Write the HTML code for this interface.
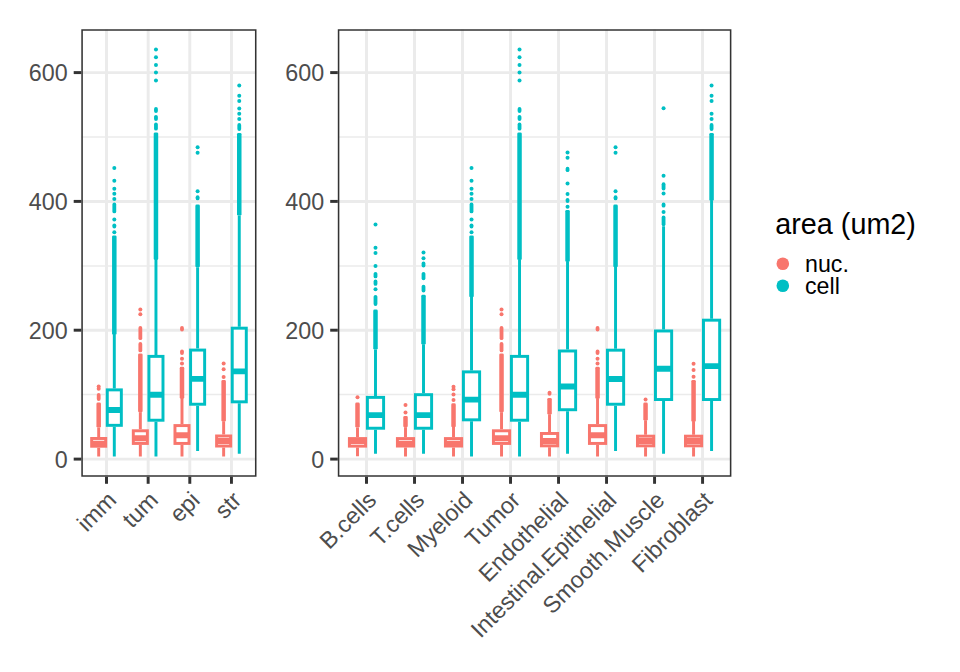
<!DOCTYPE html>
<html><head><meta charset="utf-8"><title>area boxplots</title>
<style>
html,body{margin:0;padding:0;background:#fff;}
svg{display:block;font-family:"Liberation Sans",sans-serif;}
</style></head><body>
<svg width="960" height="672" viewBox="0 0 960 672">
<rect width="960" height="672" fill="#fff"/>
<clipPath id="c1"><rect x="81.3" y="29.2" width="175.2" height="447.6"/></clipPath>
<g clip-path="url(#c1)">
<line x1="81.3" x2="256.5" y1="394.6" y2="394.6" stroke="#EBEBEB" stroke-width="1.475"/>
<line x1="81.3" x2="256.5" y1="265.9" y2="265.9" stroke="#EBEBEB" stroke-width="1.475"/>
<line x1="81.3" x2="256.5" y1="137.1" y2="137.1" stroke="#EBEBEB" stroke-width="1.475"/>
<line x1="81.3" x2="256.5" y1="459.1" y2="459.1" stroke="#EBEBEB" stroke-width="2.95"/>
<line x1="81.3" x2="256.5" y1="330.2" y2="330.2" stroke="#EBEBEB" stroke-width="2.95"/>
<line x1="81.3" x2="256.5" y1="201.4" y2="201.4" stroke="#EBEBEB" stroke-width="2.95"/>
<line x1="81.3" x2="256.5" y1="72.6" y2="72.6" stroke="#EBEBEB" stroke-width="2.95"/>
<line x1="106.50" x2="106.50" y1="29.2" y2="476.8" stroke="#EBEBEB" stroke-width="2.95"/>
<line x1="148.15" x2="148.15" y1="29.2" y2="476.8" stroke="#EBEBEB" stroke-width="2.95"/>
<line x1="189.80" x2="189.80" y1="29.2" y2="476.8" stroke="#EBEBEB" stroke-width="2.95"/>
<line x1="231.45" x2="231.45" y1="29.2" y2="476.8" stroke="#EBEBEB" stroke-width="2.95"/>
<circle cx="98.69" cy="386.4" r="2.0" fill="#F8766D"/>
<circle cx="98.69" cy="388.8" r="2.0" fill="#F8766D"/>
<line x1="98.69" x2="98.69" y1="394.9" y2="399.0" stroke="#F8766D" stroke-width="3.8" stroke-linecap="round"/>
<rect x="96.44" y="402.6" width="4.5" height="25.0" rx="1.4" fill="#F8766D"/>
<line x1="98.69" x2="98.69" y1="427.4" y2="437.0" stroke="#F8766D" stroke-width="2.95"/>
<line x1="98.69" x2="98.69" y1="447.7" y2="456.4" stroke="#F8766D" stroke-width="2.95"/>
<rect x="91.66" y="438.48" width="14.06" height="7.75" fill="#fff" stroke="#F8766D" stroke-width="2.95"/>
<line x1="91.66" x2="105.72" y1="443.7" y2="443.7" stroke="#F8766D" stroke-width="5.9"/>
<circle cx="114.31" cy="168.1" r="2.0" fill="#00BFC4"/>
<circle cx="114.31" cy="180.7" r="2.0" fill="#00BFC4"/>
<circle cx="114.31" cy="188.7" r="2.0" fill="#00BFC4"/>
<circle cx="114.31" cy="193.8" r="2.0" fill="#00BFC4"/>
<circle cx="114.31" cy="199.0" r="2.0" fill="#00BFC4"/>
<line x1="114.31" x2="114.31" y1="204.5" y2="211.4" stroke="#00BFC4" stroke-width="3.8" stroke-linecap="round"/>
<circle cx="114.31" cy="219.4" r="2.0" fill="#00BFC4"/>
<line x1="114.31" x2="114.31" y1="225.3" y2="226.5" stroke="#00BFC4" stroke-width="3.8" stroke-linecap="round"/>
<circle cx="114.31" cy="232.2" r="2.0" fill="#00BFC4"/>
<rect x="112.06" y="235.4" width="4.5" height="99.6" rx="1.4" fill="#00BFC4"/>
<line x1="114.31" x2="114.31" y1="334.8" y2="388.4" stroke="#00BFC4" stroke-width="2.95"/>
<line x1="114.31" x2="114.31" y1="426.8" y2="456.4" stroke="#00BFC4" stroke-width="2.95"/>
<rect x="107.28" y="389.88" width="14.06" height="35.45" fill="#fff" stroke="#00BFC4" stroke-width="2.95"/>
<line x1="107.28" x2="121.34" y1="410.0" y2="410.0" stroke="#00BFC4" stroke-width="5.9"/>
<circle cx="140.34" cy="309.4" r="2.0" fill="#F8766D"/>
<circle cx="140.34" cy="314.3" r="2.0" fill="#F8766D"/>
<line x1="140.34" x2="140.34" y1="328.0" y2="338.2" stroke="#F8766D" stroke-width="3.8" stroke-linecap="round"/>
<line x1="140.34" x2="140.34" y1="343.9" y2="350.4" stroke="#F8766D" stroke-width="3.8" stroke-linecap="round"/>
<rect x="138.09" y="353.4" width="4.5" height="59.0" rx="1.4" fill="#F8766D"/>
<line x1="140.34" x2="140.34" y1="412.2" y2="429.3" stroke="#F8766D" stroke-width="2.95"/>
<line x1="140.34" x2="140.34" y1="444.9" y2="456.4" stroke="#F8766D" stroke-width="2.95"/>
<rect x="133.31" y="430.78" width="14.06" height="12.65" fill="#fff" stroke="#F8766D" stroke-width="2.95"/>
<line x1="133.31" x2="147.37" y1="438.3" y2="438.3" stroke="#F8766D" stroke-width="5.9"/>
<circle cx="155.96" cy="49.5" r="2.0" fill="#00BFC4"/>
<circle cx="155.96" cy="57.2" r="2.0" fill="#00BFC4"/>
<circle cx="155.96" cy="64.9" r="2.0" fill="#00BFC4"/>
<circle cx="155.96" cy="72.6" r="2.0" fill="#00BFC4"/>
<circle cx="155.96" cy="80.6" r="2.0" fill="#00BFC4"/>
<line x1="155.96" x2="155.96" y1="108.9" y2="111.1" stroke="#00BFC4" stroke-width="3.8" stroke-linecap="round"/>
<line x1="155.96" x2="155.96" y1="116.8" y2="119.0" stroke="#00BFC4" stroke-width="3.8" stroke-linecap="round"/>
<line x1="155.96" x2="155.96" y1="124.4" y2="128.7" stroke="#00BFC4" stroke-width="3.8" stroke-linecap="round"/>
<rect x="153.71" y="132.4" width="4.5" height="127.7" rx="1.4" fill="#00BFC4"/>
<line x1="155.96" x2="155.96" y1="259.9" y2="354.9" stroke="#00BFC4" stroke-width="2.95"/>
<line x1="155.96" x2="155.96" y1="421.7" y2="456.4" stroke="#00BFC4" stroke-width="2.95"/>
<rect x="148.93" y="356.38" width="14.06" height="63.85" fill="#fff" stroke="#00BFC4" stroke-width="2.95"/>
<line x1="148.93" x2="162.99" y1="394.8" y2="394.8" stroke="#00BFC4" stroke-width="5.9"/>
<line x1="181.99" x2="181.99" y1="328.0" y2="329.6" stroke="#F8766D" stroke-width="3.8" stroke-linecap="round"/>
<line x1="181.99" x2="181.99" y1="351.4" y2="353.0" stroke="#F8766D" stroke-width="3.8" stroke-linecap="round"/>
<circle cx="181.99" cy="358.8" r="2.0" fill="#F8766D"/>
<circle cx="181.99" cy="363.5" r="2.0" fill="#F8766D"/>
<rect x="179.74" y="366.8" width="4.5" height="32.2" rx="1.4" fill="#F8766D"/>
<line x1="181.99" x2="181.99" y1="398.8" y2="424.1" stroke="#F8766D" stroke-width="2.95"/>
<line x1="181.99" x2="181.99" y1="444.9" y2="456.4" stroke="#F8766D" stroke-width="2.95"/>
<rect x="174.96" y="425.58" width="14.06" height="17.85" fill="#fff" stroke="#F8766D" stroke-width="2.95"/>
<line x1="174.96" x2="189.02" y1="435.3" y2="435.3" stroke="#F8766D" stroke-width="5.9"/>
<circle cx="197.61" cy="147.3" r="2.0" fill="#00BFC4"/>
<circle cx="197.61" cy="152.7" r="2.0" fill="#00BFC4"/>
<circle cx="197.61" cy="191.3" r="2.0" fill="#00BFC4"/>
<line x1="197.61" x2="197.61" y1="197.2" y2="198.4" stroke="#00BFC4" stroke-width="3.8" stroke-linecap="round"/>
<rect x="195.36" y="204.6" width="4.5" height="62.7" rx="1.4" fill="#00BFC4"/>
<line x1="197.61" x2="197.61" y1="267.2" y2="348.6" stroke="#00BFC4" stroke-width="2.95"/>
<line x1="197.61" x2="197.61" y1="405.7" y2="451.1" stroke="#00BFC4" stroke-width="2.95"/>
<rect x="190.58" y="350.08" width="14.06" height="54.15" fill="#fff" stroke="#00BFC4" stroke-width="2.95"/>
<line x1="190.58" x2="204.64" y1="378.9" y2="378.9" stroke="#00BFC4" stroke-width="5.9"/>
<circle cx="223.64" cy="363.6" r="2.0" fill="#F8766D"/>
<circle cx="223.64" cy="369.2" r="2.0" fill="#F8766D"/>
<circle cx="223.64" cy="377.0" r="2.0" fill="#F8766D"/>
<rect x="221.39" y="380.1" width="4.5" height="41.6" rx="1.4" fill="#F8766D"/>
<line x1="223.64" x2="223.64" y1="421.5" y2="434.5" stroke="#F8766D" stroke-width="2.95"/>
<line x1="223.64" x2="223.64" y1="447.5" y2="456.4" stroke="#F8766D" stroke-width="2.95"/>
<rect x="216.61" y="435.98" width="14.06" height="10.05" fill="#fff" stroke="#F8766D" stroke-width="2.95"/>
<line x1="216.61" x2="230.67" y1="441.0" y2="441.0" stroke="#F8766D" stroke-width="5.9"/>
<circle cx="239.26" cy="85.5" r="2.0" fill="#00BFC4"/>
<circle cx="239.26" cy="95.8" r="2.0" fill="#00BFC4"/>
<circle cx="239.26" cy="101.0" r="2.0" fill="#00BFC4"/>
<circle cx="239.26" cy="108.5" r="2.0" fill="#00BFC4"/>
<circle cx="239.26" cy="113.8" r="2.0" fill="#00BFC4"/>
<circle cx="239.26" cy="119.0" r="2.0" fill="#00BFC4"/>
<line x1="239.26" x2="239.26" y1="125.0" y2="129.0" stroke="#00BFC4" stroke-width="3.8" stroke-linecap="round"/>
<rect x="237.01" y="132.9" width="4.5" height="82.7" rx="1.4" fill="#00BFC4"/>
<line x1="239.26" x2="239.26" y1="215.4" y2="326.7" stroke="#00BFC4" stroke-width="2.95"/>
<line x1="239.26" x2="239.26" y1="403.3" y2="453.8" stroke="#00BFC4" stroke-width="2.95"/>
<rect x="232.23" y="328.18" width="14.06" height="73.65" fill="#fff" stroke="#00BFC4" stroke-width="2.95"/>
<line x1="232.23" x2="246.29" y1="371.4" y2="371.4" stroke="#00BFC4" stroke-width="5.9"/>
<rect x="81.3" y="29.2" width="175.2" height="447.6" fill="none" stroke="#333333" stroke-width="3.1"/>
</g>
<line x1="73.7" x2="81.3" y1="459.1" y2="459.1" stroke="#333333" stroke-width="2.95"/>
<text x="67.7" y="467.7" text-anchor="end" fill="#4D4D4D" font-size="23.3">0</text>
<line x1="73.7" x2="81.3" y1="330.2" y2="330.2" stroke="#333333" stroke-width="2.95"/>
<text x="67.7" y="338.9" text-anchor="end" fill="#4D4D4D" font-size="23.3">200</text>
<line x1="73.7" x2="81.3" y1="201.4" y2="201.4" stroke="#333333" stroke-width="2.95"/>
<text x="67.7" y="210.0" text-anchor="end" fill="#4D4D4D" font-size="23.3">400</text>
<line x1="73.7" x2="81.3" y1="72.6" y2="72.6" stroke="#333333" stroke-width="2.95"/>
<text x="67.7" y="81.2" text-anchor="end" fill="#4D4D4D" font-size="23.3">600</text>
<line x1="106.50" x2="106.50" y1="476.8" y2="483.8" stroke="#333333" stroke-width="2.95"/>
<text transform="translate(106.50,490.30) rotate(-45)" text-anchor="end" fill="#4D4D4D" font-size="23.3" dy="16">imm</text>
<line x1="148.15" x2="148.15" y1="476.8" y2="483.8" stroke="#333333" stroke-width="2.95"/>
<text transform="translate(148.15,490.30) rotate(-45)" text-anchor="end" fill="#4D4D4D" font-size="23.3" dy="16">tum</text>
<line x1="189.80" x2="189.80" y1="476.8" y2="483.8" stroke="#333333" stroke-width="2.95"/>
<text transform="translate(189.80,490.30) rotate(-45)" text-anchor="end" fill="#4D4D4D" font-size="23.3" dy="16">epi</text>
<line x1="231.45" x2="231.45" y1="476.8" y2="483.8" stroke="#333333" stroke-width="2.95"/>
<text transform="translate(231.45,490.30) rotate(-45)" text-anchor="end" fill="#4D4D4D" font-size="23.3" dy="16">str</text>
<clipPath id="c2"><rect x="337.8" y="29.2" width="393.59999999999997" height="447.6"/></clipPath>
<g clip-path="url(#c2)">
<line x1="337.8" x2="731.4" y1="394.6" y2="394.6" stroke="#EBEBEB" stroke-width="1.475"/>
<line x1="337.8" x2="731.4" y1="265.9" y2="265.9" stroke="#EBEBEB" stroke-width="1.475"/>
<line x1="337.8" x2="731.4" y1="137.1" y2="137.1" stroke="#EBEBEB" stroke-width="1.475"/>
<line x1="337.8" x2="731.4" y1="459.1" y2="459.1" stroke="#EBEBEB" stroke-width="2.95"/>
<line x1="337.8" x2="731.4" y1="330.2" y2="330.2" stroke="#EBEBEB" stroke-width="2.95"/>
<line x1="337.8" x2="731.4" y1="201.4" y2="201.4" stroke="#EBEBEB" stroke-width="2.95"/>
<line x1="337.8" x2="731.4" y1="72.6" y2="72.6" stroke="#EBEBEB" stroke-width="2.95"/>
<line x1="366.50" x2="366.50" y1="29.2" y2="476.8" stroke="#EBEBEB" stroke-width="2.95"/>
<line x1="414.51" x2="414.51" y1="29.2" y2="476.8" stroke="#EBEBEB" stroke-width="2.95"/>
<line x1="462.52" x2="462.52" y1="29.2" y2="476.8" stroke="#EBEBEB" stroke-width="2.95"/>
<line x1="510.53" x2="510.53" y1="29.2" y2="476.8" stroke="#EBEBEB" stroke-width="2.95"/>
<line x1="558.54" x2="558.54" y1="29.2" y2="476.8" stroke="#EBEBEB" stroke-width="2.95"/>
<line x1="606.55" x2="606.55" y1="29.2" y2="476.8" stroke="#EBEBEB" stroke-width="2.95"/>
<line x1="654.56" x2="654.56" y1="29.2" y2="476.8" stroke="#EBEBEB" stroke-width="2.95"/>
<line x1="702.57" x2="702.57" y1="29.2" y2="476.8" stroke="#EBEBEB" stroke-width="2.95"/>
<circle cx="357.50" cy="397.3" r="2.0" fill="#F8766D"/>
<rect x="355.25" y="402.6" width="4.5" height="25.0" rx="1.4" fill="#F8766D"/>
<line x1="357.50" x2="357.50" y1="427.4" y2="437.1" stroke="#F8766D" stroke-width="2.95"/>
<line x1="357.50" x2="357.50" y1="447.6" y2="456.3" stroke="#F8766D" stroke-width="2.95"/>
<rect x="349.40" y="438.58" width="16.20" height="7.55" fill="#fff" stroke="#F8766D" stroke-width="2.95"/>
<line x1="349.40" x2="365.60" y1="441.0" y2="441.0" stroke="#F8766D" stroke-width="5.9"/>
<circle cx="375.50" cy="224.5" r="2.0" fill="#00BFC4"/>
<circle cx="375.50" cy="247.7" r="2.0" fill="#00BFC4"/>
<circle cx="375.50" cy="253.0" r="2.0" fill="#00BFC4"/>
<circle cx="375.50" cy="266.1" r="2.0" fill="#00BFC4"/>
<line x1="375.50" x2="375.50" y1="273.8" y2="276.4" stroke="#00BFC4" stroke-width="3.8" stroke-linecap="round"/>
<line x1="375.50" x2="375.50" y1="281.4" y2="283.9" stroke="#00BFC4" stroke-width="3.8" stroke-linecap="round"/>
<circle cx="375.50" cy="289.3" r="2.0" fill="#00BFC4"/>
<line x1="375.50" x2="375.50" y1="296.8" y2="304.1" stroke="#00BFC4" stroke-width="3.8" stroke-linecap="round"/>
<rect x="373.25" y="309.6" width="4.5" height="40.0" rx="1.4" fill="#00BFC4"/>
<line x1="375.50" x2="375.50" y1="349.4" y2="395.9" stroke="#00BFC4" stroke-width="2.95"/>
<line x1="375.50" x2="375.50" y1="429.7" y2="453.8" stroke="#00BFC4" stroke-width="2.95"/>
<rect x="367.40" y="397.38" width="16.20" height="30.85" fill="#fff" stroke="#00BFC4" stroke-width="2.95"/>
<line x1="367.40" x2="383.60" y1="415.1" y2="415.1" stroke="#00BFC4" stroke-width="5.9"/>
<circle cx="405.51" cy="405.0" r="2.0" fill="#F8766D"/>
<circle cx="405.51" cy="412.4" r="2.0" fill="#F8766D"/>
<rect x="403.26" y="416.1" width="4.5" height="11.3" rx="1.4" fill="#F8766D"/>
<line x1="405.51" x2="405.51" y1="427.2" y2="437.1" stroke="#F8766D" stroke-width="2.95"/>
<line x1="405.51" x2="405.51" y1="447.5" y2="456.4" stroke="#F8766D" stroke-width="2.95"/>
<rect x="397.41" y="438.58" width="16.20" height="7.45" fill="#fff" stroke="#F8766D" stroke-width="2.95"/>
<line x1="397.41" x2="413.61" y1="443.7" y2="443.7" stroke="#F8766D" stroke-width="5.9"/>
<circle cx="423.51" cy="252.6" r="2.0" fill="#00BFC4"/>
<circle cx="423.51" cy="258.2" r="2.0" fill="#00BFC4"/>
<line x1="423.51" x2="423.51" y1="263.5" y2="265.5" stroke="#00BFC4" stroke-width="3.8" stroke-linecap="round"/>
<line x1="423.51" x2="423.51" y1="273.8" y2="278.3" stroke="#00BFC4" stroke-width="3.8" stroke-linecap="round"/>
<line x1="423.51" x2="423.51" y1="286.7" y2="290.6" stroke="#00BFC4" stroke-width="3.8" stroke-linecap="round"/>
<rect x="421.26" y="294.8" width="4.5" height="49.9" rx="1.4" fill="#00BFC4"/>
<line x1="423.51" x2="423.51" y1="344.5" y2="393.2" stroke="#00BFC4" stroke-width="2.95"/>
<line x1="423.51" x2="423.51" y1="429.7" y2="453.8" stroke="#00BFC4" stroke-width="2.95"/>
<rect x="415.41" y="394.68" width="16.20" height="33.55" fill="#fff" stroke="#00BFC4" stroke-width="2.95"/>
<line x1="415.41" x2="431.61" y1="415.1" y2="415.1" stroke="#00BFC4" stroke-width="5.9"/>
<circle cx="453.52" cy="386.8" r="2.0" fill="#F8766D"/>
<circle cx="453.52" cy="389.2" r="2.0" fill="#F8766D"/>
<circle cx="453.52" cy="394.5" r="2.0" fill="#F8766D"/>
<circle cx="453.52" cy="400.0" r="2.0" fill="#F8766D"/>
<rect x="451.27" y="403.3" width="4.5" height="24.0" rx="1.4" fill="#F8766D"/>
<line x1="453.52" x2="453.52" y1="427.1" y2="437.1" stroke="#F8766D" stroke-width="2.95"/>
<line x1="453.52" x2="453.52" y1="447.5" y2="456.4" stroke="#F8766D" stroke-width="2.95"/>
<rect x="445.42" y="438.58" width="16.20" height="7.45" fill="#fff" stroke="#F8766D" stroke-width="2.95"/>
<line x1="445.42" x2="461.62" y1="443.7" y2="443.7" stroke="#F8766D" stroke-width="5.9"/>
<circle cx="471.52" cy="168.1" r="2.0" fill="#00BFC4"/>
<circle cx="471.52" cy="180.7" r="2.0" fill="#00BFC4"/>
<circle cx="471.52" cy="188.7" r="2.0" fill="#00BFC4"/>
<circle cx="471.52" cy="193.8" r="2.0" fill="#00BFC4"/>
<circle cx="471.52" cy="199.0" r="2.0" fill="#00BFC4"/>
<line x1="471.52" x2="471.52" y1="204.5" y2="211.4" stroke="#00BFC4" stroke-width="3.8" stroke-linecap="round"/>
<circle cx="471.52" cy="219.4" r="2.0" fill="#00BFC4"/>
<line x1="471.52" x2="471.52" y1="225.3" y2="226.5" stroke="#00BFC4" stroke-width="3.8" stroke-linecap="round"/>
<circle cx="471.52" cy="232.2" r="2.0" fill="#00BFC4"/>
<rect x="469.27" y="235.4" width="4.5" height="61.9" rx="1.4" fill="#00BFC4"/>
<line x1="471.52" x2="471.52" y1="297.1" y2="370.4" stroke="#00BFC4" stroke-width="2.95"/>
<line x1="471.52" x2="471.52" y1="421.3" y2="456.4" stroke="#00BFC4" stroke-width="2.95"/>
<rect x="463.42" y="371.88" width="16.20" height="47.95" fill="#fff" stroke="#00BFC4" stroke-width="2.95"/>
<line x1="463.42" x2="479.62" y1="399.6" y2="399.6" stroke="#00BFC4" stroke-width="5.9"/>
<circle cx="501.53" cy="309.4" r="2.0" fill="#F8766D"/>
<circle cx="501.53" cy="314.3" r="2.0" fill="#F8766D"/>
<line x1="501.53" x2="501.53" y1="328.0" y2="338.2" stroke="#F8766D" stroke-width="3.8" stroke-linecap="round"/>
<line x1="501.53" x2="501.53" y1="343.9" y2="350.4" stroke="#F8766D" stroke-width="3.8" stroke-linecap="round"/>
<rect x="499.28" y="353.4" width="4.5" height="59.0" rx="1.4" fill="#F8766D"/>
<line x1="501.53" x2="501.53" y1="412.2" y2="429.3" stroke="#F8766D" stroke-width="2.95"/>
<line x1="501.53" x2="501.53" y1="444.9" y2="456.4" stroke="#F8766D" stroke-width="2.95"/>
<rect x="493.43" y="430.78" width="16.20" height="12.65" fill="#fff" stroke="#F8766D" stroke-width="2.95"/>
<line x1="493.43" x2="509.63" y1="438.3" y2="438.3" stroke="#F8766D" stroke-width="5.9"/>
<circle cx="519.53" cy="49.5" r="2.0" fill="#00BFC4"/>
<circle cx="519.53" cy="57.2" r="2.0" fill="#00BFC4"/>
<circle cx="519.53" cy="64.9" r="2.0" fill="#00BFC4"/>
<circle cx="519.53" cy="72.6" r="2.0" fill="#00BFC4"/>
<circle cx="519.53" cy="80.6" r="2.0" fill="#00BFC4"/>
<line x1="519.53" x2="519.53" y1="108.9" y2="111.1" stroke="#00BFC4" stroke-width="3.8" stroke-linecap="round"/>
<line x1="519.53" x2="519.53" y1="116.8" y2="119.0" stroke="#00BFC4" stroke-width="3.8" stroke-linecap="round"/>
<line x1="519.53" x2="519.53" y1="124.4" y2="128.7" stroke="#00BFC4" stroke-width="3.8" stroke-linecap="round"/>
<rect x="517.28" y="132.4" width="4.5" height="127.7" rx="1.4" fill="#00BFC4"/>
<line x1="519.53" x2="519.53" y1="259.9" y2="354.9" stroke="#00BFC4" stroke-width="2.95"/>
<line x1="519.53" x2="519.53" y1="421.7" y2="456.4" stroke="#00BFC4" stroke-width="2.95"/>
<rect x="511.43" y="356.38" width="16.20" height="63.85" fill="#fff" stroke="#00BFC4" stroke-width="2.95"/>
<line x1="511.43" x2="527.63" y1="394.8" y2="394.8" stroke="#00BFC4" stroke-width="5.9"/>
<line x1="549.54" x2="549.54" y1="392.6" y2="393.8" stroke="#F8766D" stroke-width="3.8" stroke-linecap="round"/>
<rect x="547.29" y="397.9" width="4.5" height="16.8" rx="1.4" fill="#F8766D"/>
<line x1="549.54" x2="549.54" y1="414.5" y2="432.0" stroke="#F8766D" stroke-width="2.95"/>
<line x1="549.54" x2="549.54" y1="447.3" y2="456.4" stroke="#F8766D" stroke-width="2.95"/>
<rect x="541.44" y="433.48" width="16.20" height="12.35" fill="#fff" stroke="#F8766D" stroke-width="2.95"/>
<line x1="541.44" x2="557.64" y1="441.0" y2="441.0" stroke="#F8766D" stroke-width="5.9"/>
<circle cx="567.54" cy="152.5" r="2.0" fill="#00BFC4"/>
<circle cx="567.54" cy="157.8" r="2.0" fill="#00BFC4"/>
<line x1="567.54" x2="567.54" y1="168.7" y2="170.2" stroke="#00BFC4" stroke-width="3.8" stroke-linecap="round"/>
<circle cx="567.54" cy="183.6" r="2.0" fill="#00BFC4"/>
<circle cx="567.54" cy="193.9" r="2.0" fill="#00BFC4"/>
<line x1="567.54" x2="567.54" y1="199.8" y2="201.0" stroke="#00BFC4" stroke-width="3.8" stroke-linecap="round"/>
<circle cx="567.54" cy="206.7" r="2.0" fill="#00BFC4"/>
<rect x="565.29" y="209.9" width="4.5" height="52.1" rx="1.4" fill="#00BFC4"/>
<line x1="567.54" x2="567.54" y1="261.8" y2="349.5" stroke="#00BFC4" stroke-width="2.95"/>
<line x1="567.54" x2="567.54" y1="411.2" y2="453.8" stroke="#00BFC4" stroke-width="2.95"/>
<rect x="559.44" y="350.98" width="16.20" height="58.75" fill="#fff" stroke="#00BFC4" stroke-width="2.95"/>
<line x1="559.44" x2="575.64" y1="386.5" y2="386.5" stroke="#00BFC4" stroke-width="5.9"/>
<line x1="597.55" x2="597.55" y1="328.0" y2="329.6" stroke="#F8766D" stroke-width="3.8" stroke-linecap="round"/>
<line x1="597.55" x2="597.55" y1="351.4" y2="353.0" stroke="#F8766D" stroke-width="3.8" stroke-linecap="round"/>
<circle cx="597.55" cy="358.8" r="2.0" fill="#F8766D"/>
<circle cx="597.55" cy="363.5" r="2.0" fill="#F8766D"/>
<rect x="595.30" y="366.8" width="4.5" height="32.2" rx="1.4" fill="#F8766D"/>
<line x1="597.55" x2="597.55" y1="398.8" y2="424.1" stroke="#F8766D" stroke-width="2.95"/>
<line x1="597.55" x2="597.55" y1="444.9" y2="456.4" stroke="#F8766D" stroke-width="2.95"/>
<rect x="589.45" y="425.58" width="16.20" height="17.85" fill="#fff" stroke="#F8766D" stroke-width="2.95"/>
<line x1="589.45" x2="605.65" y1="435.3" y2="435.3" stroke="#F8766D" stroke-width="5.9"/>
<circle cx="615.55" cy="147.3" r="2.0" fill="#00BFC4"/>
<circle cx="615.55" cy="152.7" r="2.0" fill="#00BFC4"/>
<circle cx="615.55" cy="191.3" r="2.0" fill="#00BFC4"/>
<line x1="615.55" x2="615.55" y1="197.2" y2="198.4" stroke="#00BFC4" stroke-width="3.8" stroke-linecap="round"/>
<rect x="613.30" y="204.6" width="4.5" height="62.7" rx="1.4" fill="#00BFC4"/>
<line x1="615.55" x2="615.55" y1="267.1" y2="348.7" stroke="#00BFC4" stroke-width="2.95"/>
<line x1="615.55" x2="615.55" y1="405.7" y2="451.1" stroke="#00BFC4" stroke-width="2.95"/>
<rect x="607.45" y="350.18" width="16.20" height="54.05" fill="#fff" stroke="#00BFC4" stroke-width="2.95"/>
<line x1="607.45" x2="623.65" y1="379.0" y2="379.0" stroke="#00BFC4" stroke-width="5.9"/>
<circle cx="645.56" cy="399.6" r="2.0" fill="#F8766D"/>
<rect x="643.31" y="402.6" width="4.5" height="18.1" rx="1.4" fill="#F8766D"/>
<line x1="645.56" x2="645.56" y1="420.5" y2="434.7" stroke="#F8766D" stroke-width="2.95"/>
<line x1="645.56" x2="645.56" y1="447.3" y2="456.4" stroke="#F8766D" stroke-width="2.95"/>
<rect x="637.46" y="436.18" width="16.20" height="9.65" fill="#fff" stroke="#F8766D" stroke-width="2.95"/>
<line x1="637.46" x2="653.66" y1="441.0" y2="441.0" stroke="#F8766D" stroke-width="5.9"/>
<circle cx="663.56" cy="108.3" r="2.0" fill="#00BFC4"/>
<circle cx="663.56" cy="175.7" r="2.0" fill="#00BFC4"/>
<line x1="663.56" x2="663.56" y1="184.2" y2="188.5" stroke="#00BFC4" stroke-width="3.8" stroke-linecap="round"/>
<circle cx="663.56" cy="193.6" r="2.0" fill="#00BFC4"/>
<line x1="663.56" x2="663.56" y1="204.5" y2="205.7" stroke="#00BFC4" stroke-width="3.8" stroke-linecap="round"/>
<circle cx="663.56" cy="211.9" r="2.0" fill="#00BFC4"/>
<line x1="663.56" x2="663.56" y1="217.5" y2="224.3" stroke="#00BFC4" stroke-width="3.8" stroke-linecap="round"/>
<line x1="663.56" x2="663.56" y1="226.3" y2="329.5" stroke="#00BFC4" stroke-width="2.95"/>
<line x1="663.56" x2="663.56" y1="401.0" y2="453.8" stroke="#00BFC4" stroke-width="2.95"/>
<rect x="655.46" y="330.98" width="16.20" height="68.55" fill="#fff" stroke="#00BFC4" stroke-width="2.95"/>
<line x1="655.46" x2="671.66" y1="368.8" y2="368.8" stroke="#00BFC4" stroke-width="5.9"/>
<circle cx="693.57" cy="363.7" r="2.0" fill="#F8766D"/>
<circle cx="693.57" cy="370.0" r="2.0" fill="#F8766D"/>
<circle cx="693.57" cy="376.8" r="2.0" fill="#F8766D"/>
<rect x="691.32" y="379.9" width="4.5" height="42.1" rx="1.4" fill="#F8766D"/>
<line x1="693.57" x2="693.57" y1="421.8" y2="434.7" stroke="#F8766D" stroke-width="2.95"/>
<line x1="693.57" x2="693.57" y1="447.3" y2="456.4" stroke="#F8766D" stroke-width="2.95"/>
<rect x="685.47" y="436.18" width="16.20" height="9.65" fill="#fff" stroke="#F8766D" stroke-width="2.95"/>
<line x1="685.47" x2="701.67" y1="441.0" y2="441.0" stroke="#F8766D" stroke-width="5.9"/>
<circle cx="711.57" cy="85.5" r="2.0" fill="#00BFC4"/>
<circle cx="711.57" cy="95.8" r="2.0" fill="#00BFC4"/>
<circle cx="711.57" cy="101.0" r="2.0" fill="#00BFC4"/>
<circle cx="711.57" cy="113.8" r="2.0" fill="#00BFC4"/>
<circle cx="711.57" cy="119.0" r="2.0" fill="#00BFC4"/>
<line x1="711.57" x2="711.57" y1="125.0" y2="129.0" stroke="#00BFC4" stroke-width="3.8" stroke-linecap="round"/>
<rect x="709.32" y="132.9" width="4.5" height="68.0" rx="1.4" fill="#00BFC4"/>
<line x1="711.57" x2="711.57" y1="200.7" y2="318.7" stroke="#00BFC4" stroke-width="2.95"/>
<line x1="711.57" x2="711.57" y1="401.0" y2="451.1" stroke="#00BFC4" stroke-width="2.95"/>
<rect x="703.47" y="320.18" width="16.20" height="79.35" fill="#fff" stroke="#00BFC4" stroke-width="2.95"/>
<line x1="703.47" x2="719.67" y1="366.1" y2="366.1" stroke="#00BFC4" stroke-width="5.9"/>
<rect x="337.8" y="29.2" width="393.59999999999997" height="447.6" fill="none" stroke="#333333" stroke-width="3.1"/>
</g>
<line x1="330.2" x2="337.8" y1="459.1" y2="459.1" stroke="#333333" stroke-width="2.95"/>
<text x="324.2" y="467.7" text-anchor="end" fill="#4D4D4D" font-size="23.3">0</text>
<line x1="330.2" x2="337.8" y1="330.2" y2="330.2" stroke="#333333" stroke-width="2.95"/>
<text x="324.2" y="338.9" text-anchor="end" fill="#4D4D4D" font-size="23.3">200</text>
<line x1="330.2" x2="337.8" y1="201.4" y2="201.4" stroke="#333333" stroke-width="2.95"/>
<text x="324.2" y="210.0" text-anchor="end" fill="#4D4D4D" font-size="23.3">400</text>
<line x1="330.2" x2="337.8" y1="72.6" y2="72.6" stroke="#333333" stroke-width="2.95"/>
<text x="324.2" y="81.2" text-anchor="end" fill="#4D4D4D" font-size="23.3">600</text>
<line x1="366.50" x2="366.50" y1="476.8" y2="483.8" stroke="#333333" stroke-width="2.95"/>
<text transform="translate(366.50,490.30) rotate(-45)" text-anchor="end" fill="#4D4D4D" font-size="23.3" dy="16">B.cells</text>
<line x1="414.51" x2="414.51" y1="476.8" y2="483.8" stroke="#333333" stroke-width="2.95"/>
<text transform="translate(414.51,490.30) rotate(-45)" text-anchor="end" fill="#4D4D4D" font-size="23.3" dy="16">T.cells</text>
<line x1="462.52" x2="462.52" y1="476.8" y2="483.8" stroke="#333333" stroke-width="2.95"/>
<text transform="translate(462.52,490.30) rotate(-45)" text-anchor="end" fill="#4D4D4D" font-size="23.3" dy="16">Myeloid</text>
<line x1="510.53" x2="510.53" y1="476.8" y2="483.8" stroke="#333333" stroke-width="2.95"/>
<text transform="translate(510.53,490.30) rotate(-45)" text-anchor="end" fill="#4D4D4D" font-size="23.3" dy="16">Tumor</text>
<line x1="558.54" x2="558.54" y1="476.8" y2="483.8" stroke="#333333" stroke-width="2.95"/>
<text transform="translate(558.54,490.30) rotate(-45)" text-anchor="end" fill="#4D4D4D" font-size="23.3" dy="16">Endothelial</text>
<line x1="606.55" x2="606.55" y1="476.8" y2="483.8" stroke="#333333" stroke-width="2.95"/>
<text transform="translate(606.55,490.30) rotate(-45)" text-anchor="end" fill="#4D4D4D" font-size="23.3" dy="16">Intestinal.Epithelial</text>
<line x1="654.56" x2="654.56" y1="476.8" y2="483.8" stroke="#333333" stroke-width="2.95"/>
<text transform="translate(654.56,490.30) rotate(-45)" text-anchor="end" fill="#4D4D4D" font-size="23.3" dy="16">Smooth.Muscle</text>
<line x1="702.57" x2="702.57" y1="476.8" y2="483.8" stroke="#333333" stroke-width="2.95"/>
<text transform="translate(702.57,490.30) rotate(-45)" text-anchor="end" fill="#4D4D4D" font-size="23.3" dy="16">Fibroblast</text>

<text x="775.3" y="234.2" font-size="28.75" fill="#000">area (um2)</text>
<circle cx="782.8" cy="263.8" r="6.3" fill="#F8766D"/>
<circle cx="782.8" cy="285.8" r="6.3" fill="#00BFC4"/>
<text x="805.0" y="271.8" font-size="23.2" fill="#000">nuc.</text>
<text x="805.0" y="294.0" font-size="23.2" fill="#000">cell</text>

</svg>
</body></html>
